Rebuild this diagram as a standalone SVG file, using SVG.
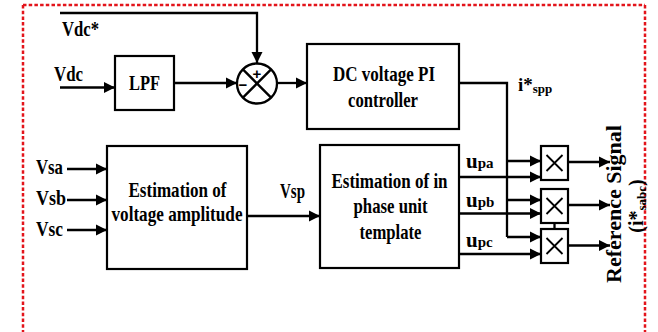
<svg xmlns="http://www.w3.org/2000/svg" width="658" height="332" viewBox="0 0 658 332">
<style>
  text { font-family: "Liberation Serif", "Times New Roman", serif; font-weight: bold; fill: #000; }
  .lbl { font-size: 21px; }
  .box { fill: #fff; stroke: #000; stroke-width: 2.2; }
  .wire { fill: none; stroke: #000; stroke-width: 2.3; }
  .arr { fill: none; stroke: #000; stroke-width: 2.3; marker-end: url(#ah); }
  .thin { stroke: #000; stroke-width: 1.8; fill: none; }
  .border { fill: none; stroke: #e3141b; stroke-width: 2.5; stroke-dasharray: 3.5 2.2; }
</style>
<defs>
  <marker id="ah" markerUnits="userSpaceOnUse" markerWidth="12" markerHeight="12" refX="11" refY="6" orient="auto">
    <path d="M0,0.5 L11,6 L0,11.5 z" fill="#000"/>
  </marker>
</defs>
<rect width="658" height="332" fill="#fff"/>
<path class="border" d="M23,5 H645 M23,5 V332 M645,5 V332"/>

<g id="connectors">
  <path class="arr" d="M60,13 H257 V63"/>
  <path class="arr" d="M60,87.5 H115"/>
  <path class="arr" d="M174,83 H237"/>
  <path class="arr" d="M277,83 H307"/>
  <path class="wire" d="M459,83 H507 V237"/>
  <path class="arr" d="M507,161 H541"/>
  <path class="arr" d="M507,200 H541"/>
  <path class="arr" d="M507,237 H541"/>
  <path class="arr" d="M67,169 H107"/>
  <path class="arr" d="M67,200 H107"/>
  <path class="arr" d="M67,230 H107"/>
  <path class="arr" d="M247,216 H320"/>
  <path class="arr" d="M459,177 H541"/>
  <path class="arr" d="M459,213.5 H541"/>
  <path class="arr" d="M459,254 H541"/>
  <path class="arr" d="M568,162 H610"/>
  <path class="arr" d="M568,205 H610"/>
  <path class="arr" d="M568,245.5 H610"/>
  <path class="wire" d="M554.5,223 V229" stroke-width="1.6"/>
</g>

<g id="labels">
  <text class="lbl" x="62" y="36" textLength="37" lengthAdjust="spacingAndGlyphs">Vdc*</text>
  <text class="lbl" x="54" y="81" textLength="29" lengthAdjust="spacingAndGlyphs">Vdc</text>
  <text class="lbl" x="36" y="174" textLength="27" lengthAdjust="spacingAndGlyphs">Vsa</text>
  <text class="lbl" x="36" y="205" textLength="30" lengthAdjust="spacingAndGlyphs">Vsb</text>
  <text class="lbl" x="36" y="236" textLength="27" lengthAdjust="spacingAndGlyphs">Vsc</text>
  <text class="lbl" x="280" y="198" textLength="25" lengthAdjust="spacingAndGlyphs">Vsp</text>
  <text x="518" y="91" font-size="19">i*<tspan font-size="13" dy="2">spp</tspan></text>
  <text x="466" y="168" font-size="21">u<tspan font-size="15">pa</tspan></text>
  <text x="466" y="207" font-size="21">u<tspan font-size="15">pb</tspan></text>
  <text x="466" y="247" font-size="21">u<tspan font-size="15">pc</tspan></text>
  <text class="lbl" transform="translate(621,204) rotate(-90)" text-anchor="middle" textLength="158" lengthAdjust="spacingAndGlyphs">Reference Signal</text>
  <text transform="translate(643,206) rotate(-90)" text-anchor="middle" font-size="20">(i*<tspan font-size="13" dy="3">sabc</tspan><tspan dy="-3">)</tspan></text>
</g>

<g id="lpf">
  <rect class="box" x="115" y="56" width="59" height="54"/>
  <text class="lbl" x="129" y="90" textLength="31" lengthAdjust="spacingAndGlyphs">LPF</text>
</g>

<g id="sum">
  <circle cx="257" cy="83.5" r="20" fill="#fff" stroke="#000" stroke-width="2.3"/>
  <path class="wire" stroke-width="2" d="M242.9,69.4 L271.1,97.6 M271.1,69.4 L242.9,97.6"/>
  <text x="257" y="78.5" font-size="15" text-anchor="middle" style="font-family:'Liberation Sans',Arial,sans-serif">+</text>
  <text x="243" y="89.5" font-size="15" text-anchor="middle" style="font-family:'Liberation Sans',Arial,sans-serif">−</text>
</g>

<g id="pi">
  <rect class="box" x="307" y="44" width="152" height="85"/>
  <text class="lbl" x="333" y="81" font-size="23" textLength="102" lengthAdjust="spacingAndGlyphs">DC voltage PI</text>
  <text class="lbl" x="348" y="107" font-size="23" textLength="70" lengthAdjust="spacingAndGlyphs">controller</text>
</g>

<g id="amp">
  <rect class="box" x="107" y="146" width="140" height="123"/>
  <text class="lbl" x="128.5" y="197" textLength="98" lengthAdjust="spacingAndGlyphs">Estimation of</text>
  <text class="lbl" x="111.5" y="221" font-size="20" textLength="131" lengthAdjust="spacingAndGlyphs">voltage amplitude</text>
</g>

<g id="template">
  <rect class="box" x="320" y="145" width="139" height="123"/>
  <text transform="translate(389.5,188) scale(1,1.2)" x="0" y="0" font-size="17" text-anchor="middle">Estimation of in</text>
  <text class="lbl" x="353.5" y="213" textLength="74" lengthAdjust="spacingAndGlyphs">phase unit</text>
  <text class="lbl" x="359.5" y="239" textLength="62" lengthAdjust="spacingAndGlyphs">template</text>
</g>

<g id="mult1">
  <rect class="box" x="541" y="146" width="27" height="34"/>
  <path class="thin" d="M546.5,155 L562.5,171 M562.5,155 L546.5,171"/>
</g>
<g id="mult2">
  <rect class="box" x="541" y="189" width="27" height="34"/>
  <path class="thin" d="M546.5,198 L562.5,214 M562.5,198 L546.5,214"/>
</g>
<g id="mult3">
  <rect class="box" x="541" y="229" width="27" height="34"/>
  <path class="thin" d="M546.5,238 L562.5,254 M562.5,238 L546.5,254"/>
</g>
</svg>
